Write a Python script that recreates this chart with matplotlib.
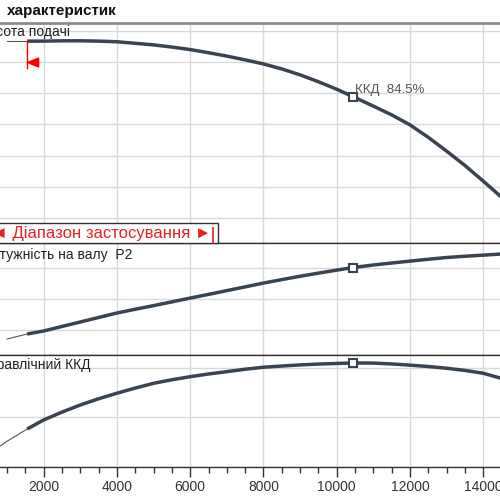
import matplotlib.pyplot as plt
from matplotlib.patches import Rectangle
from matplotlib.ticker import MultipleLocator

# ================== DATA ==================
flow = [1550, 2000, 2500, 3000, 3500, 4000, 4500, 5000, 5500, 6000, 6500,
        7000, 7500, 8000, 8500, 9000, 9500, 10000, 10450, 11000, 11500,
        12000, 12500, 13000, 13500, 14000, 14600]
head = [38.3, 38.3, 38.35, 38.35, 38.3, 38.2, 37.95, 37.7, 37.35, 36.95, 36.45,
        35.9, 35.3, 34.65, 33.85, 32.9, 31.8, 30.6, 29.4, 27.9, 26.5,
        24.9, 22.9, 20.7, 18.4, 15.9, 12.8]
power = [9.36, 9.84, 10.57, 11.28, 12.0, 12.72, 13.32, 13.9, 14.5, 15.11, 15.7,
         16.3, 16.9, 17.51, 18.06, 18.6, 19.1, 19.58, 20.0, 20.4, 20.72,
         21.02, 21.32, 21.6, 21.8, 21.98, 22.2]
eff = [30.6, 38.0, 44.4, 50.2, 55.3, 59.8, 64.0, 67.9, 70.8, 73.3, 75.5,
       77.4, 79.4, 81.0, 82.0, 82.9, 83.6, 84.1, 84.5, 84.4, 83.7,
       82.7, 81.6, 80.2, 78.4, 76.1, 71.0]

# thin parts outside the working range
flow_thin = [1000, 1550]
head_thin = [38.3, 38.3]
power_thin = [8.56, 9.36]
flow_eff_thin = [0, 500, 1000, 1550]
eff_thin = [0, 10.2, 20.6, 30.6]

bep_q = 10450
bep_h, bep_p, bep_eta = 29.4, 20.0, 84.5
range_q = 1550
range_h = [38.4, 34.0]
range_arrow_h = 34.9

x_ticks = [2000, 4000, 6000, 8000, 10000, 12000, 14000]

# ================== STYLE ==================
plt.rcParams["font.family"] = ["Liberation Sans", "DejaVu Sans"]
LINE = "#3a4450"
GRID = "#d9d9d9"
DARK = "#333333"

W = H = 500.0


def fx(px):
    return px / W


def fy(py):
    return 1 - py / H


fig = plt.figure(figsize=(5, 5), dpi=100)

left = fx(-29.6)
width = fx(519.9) - left
ax_h = fig.add_axes([left, fy(243), width, fy(22.5) - fy(243)])
ax_p = fig.add_axes([left, fy(355), width, fy(243) - fy(355)])
ax_e = fig.add_axes([left, fy(466.5), width, fy(355) - fy(466.5)])

for ax in (ax_h, ax_p, ax_e):
    ax.set_xlim(0, 15000)
    ax.set_xticks(x_ticks)
    ax.grid(True, color=GRID, linewidth=1.0)
    ax.set_axisbelow(True)
    ax.tick_params(axis="y", left=False, labelleft=False)
    for s in ax.spines.values():
        s.set_color(DARK)
        s.set_linewidth(1.0)

ax_h.tick_params(axis="x", bottom=False, labelbottom=False)
ax_p.tick_params(axis="x", bottom=False, labelbottom=False)
ax_h.spines["top"].set_color("#8c8c8c")
ax_h.spines["top"].set_linewidth(2.0)

# ===== HEAD =====
ax_h.set_ylim(6.0, 41.28)
ax_h.set_yticks([10, 15, 20, 25, 30, 35, 40])
ax_h.plot(flow_thin, head_thin, color="#555555", linewidth=0.8)
ax_h.plot(flow, head, color=LINE, linewidth=2.5, solid_capstyle="butt")
ax_h.plot([bep_q], [bep_h], marker="s", ms=5.5, mfc="white", mec=LINE, mew=1.5)
ax_h.annotate("ККД  84.5%", (bep_q, bep_h), xytext=(1.5, 3),
              textcoords="offset points", fontsize=9.5, color="#555555",
              ha="left", va="baseline")
ax_h.plot([range_q, range_q], range_h, color="red", linewidth=1.0)
ax_h.plot([range_q], [range_arrow_h], linestyle="none", color="red",
          marker=[(0, 0), (2, 0.8), (2, -0.8), (0, 0)], ms=16)

# ===== POWER =====
ax_p.set_ylim(6.0, 23.92)
ax_p.set_yticks([10, 15, 20])
ax_p.plot(flow_thin, power_thin, color="#555555", linewidth=0.8)
ax_p.plot(flow, power, color=LINE, linewidth=2.5, solid_capstyle="butt")
ax_p.plot([bep_q], [bep_p], marker="s", ms=5.5, mfc="white", mec=LINE, mew=1.5)

# ===== EFFICIENCY =====
ax_e.set_ylim(0, 91)
ax_e.set_yticks([0, 40, 80])
ax_e.plot(flow_eff_thin, eff_thin, color="#555555", linewidth=0.8)
ax_e.plot(flow, eff, color=LINE, linewidth=2.5, solid_capstyle="butt")
ax_e.plot([bep_q], [bep_eta], marker="s", ms=5.5, mfc="white", mec=LINE, mew=1.5)
ax_e.xaxis.set_minor_locator(MultipleLocator(500))
ax_e.tick_params(axis="x", which="major", direction="out", length=7, width=1,
                 color=DARK, labelsize=10, labelcolor=DARK, pad=3)
ax_e.tick_params(axis="x", which="minor", direction="out", length=4, width=1,
                 color=DARK)
ax_e.set_xticklabels([str(t) for t in x_ticks])

# ===== TEXTS =====
fig.text(fx(7), fy(14.5), "характеристик", fontsize=11, fontweight="bold",
         color="#111111", va="baseline")
fig.text(fx(70), fy(36.3), "Висота подачі", fontsize=10, color="#222222",
         ha="right", va="baseline")
fig.text(fx(132), fy(258.5), "Потужність на валу  P2", fontsize=10,
         color="#222222", ha="right", va="baseline")
fig.text(fx(90), fy(369.5), "Гідравлічний ККД", fontsize=10,
         color="#222222", ha="right", va="baseline")

# application range legend box
fig.patches.append(Rectangle((fx(-10), fy(243)), fx(228), fy(223) - fy(243),
                             transform=fig.transFigure, facecolor="white",
                             edgecolor=DARK, linewidth=1.0, zorder=5))
fig.text(fx(211), fy(238), "|◄ Діапазон застосування ►", fontsize=12,
         color="#e8201e", ha="right", va="baseline", zorder=6)
fig.lines.append(plt.Line2D([fx(213), fx(213)], [fy(228), fy(243)],
                            transform=fig.transFigure, color="#e8201e",
                            linewidth=1.2, zorder=6))

fig.savefig("out.png", dpi=100)
